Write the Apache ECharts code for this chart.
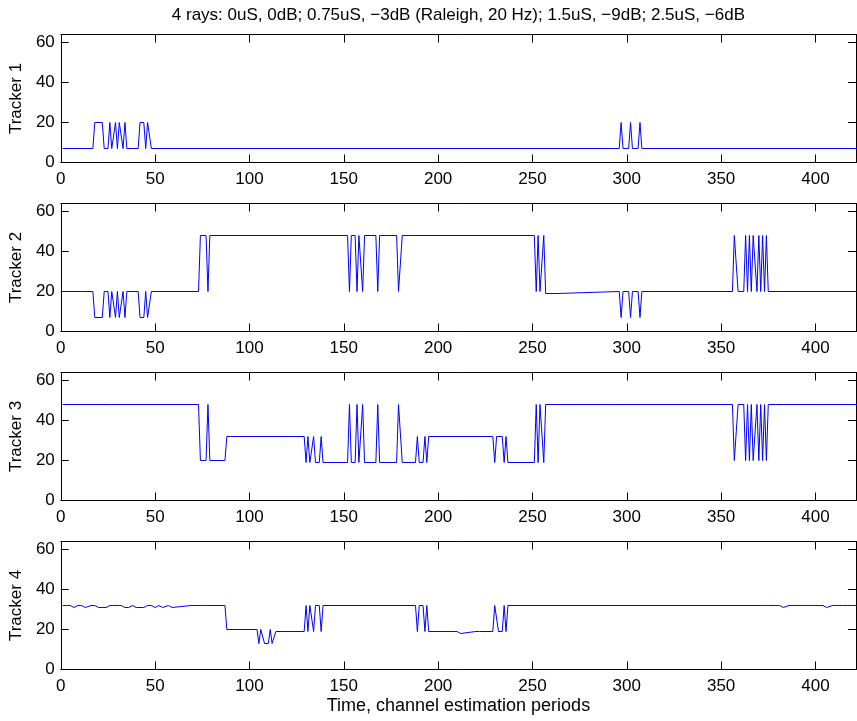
<!DOCTYPE html>
<html>
<head>
<meta charset="utf-8">
<script src="https://cdn.jsdelivr.net/npm/echarts@6/dist/echarts.min.js"></script>
<style>html,body{margin:0;padding:0;background:#fff}#c{width:857px;height:721px}</style>
</head>
<body>
<div id="c"></div>
<script>
// ---- data: vertices of each tracker's step trace as [sample index, value] ----
const titleText = '4 rays: 0uS, 0dB; 0.75uS, \u22123dB (Raleigh, 20 Hz); 1.5uS, \u22129dB; 2.5uS, \u22126dB';
const xLabel = 'Time, channel estimation periods';
const yLabels = ['Tracker 1', 'Tracker 2', 'Tracker 3', 'Tracker 4'];
const xTicks = [0, 50, 100, 150, 200, 250, 300, 350, 400];
const yTicks = [0, 20, 40, 60];

const tracker1 = [[1,7],[17,7],[18,20],[22,20],[23,7],[25,7],[26,20],[27,7],[28,7],[29,20],[30,7],[31,20],[32,20],[33,7],[34,20],[35,7],
  [41,7],[42,20],[44,20],[45,7],[46,20],[47,20],[48,7],
  [296,7],[297,20],[298,7],[301,7],[302,20],[303,7],[306,7],[307,20],[308,7],[422,7]];

const tracker2 = [[1,20],[17,20],[18,7],[22,7],[23,20],[25,20],[26,7],[27,20],[28,20],[29,7],[30,20],[31,7],[32,7],[33,20],[34,7],[35,20],
  [41,20],[42,7],[44,7],[45,20],[46,7],[47,7],[48,20],
  [73,20],[74,48],[77,48],[78,20],[79,48],
  [152,48],[153,20],[154,48],[156,48],[157,20],[158,48],[159,48],[160,20],[161,48],[167,48],[168,20],[169,48],[178,48],[179,20],[180,20],[181,48],
  [251,48],[252,20],[253,48],[254,20],[255,20],[256,48],[257,19],[263,19],[264,20],
  [296,20],[297,7],[298,20],[301,20],[302,7],[303,20],[306,20],[307,7],[308,20],
  [356,20],[357,48],[358,48],[359,20],[362,20],[363,48],[364,20],[365,48],[366,20],[367,48],[368,48],[369,20],[370,48],[371,20],[372,48],[373,20],[374,48],[375,20],[422,20]];

const tracker3 = [[1,48],[25,48],[26,49],[27,48],
  [73,48],[74,20],[77,20],[78,48],[79,20],[87,20],[88,32],[89,31],[90,32],
  [122,32],[123,31],[124,32],
  [129,32],[130,19],[131,32],[132,19],[133,19],[134,32],[135,19],[137,19],[138,32],[139,19],
  [152,19],[153,48],[154,19],[156,19],[157,48],[158,19],[159,19],[160,48],[161,19],[167,19],[168,48],[169,19],[178,19],[179,48],[180,48],[181,19],
  [188,19],[189,32],[190,19],[192,19],[193,32],[194,19],[195,32],
  [229,32],[230,19],[231,32],[234,32],[235,19],[236,32],[237,19],
  [251,19],[252,48],[253,19],[254,48],[255,48],[256,19],[257,48],
  [288,48],[289,49],[290,48],[291,49],[292,48],
  [356,48],[357,20],[358,20],[359,48],[362,48],[363,20],[364,48],[365,20],[366,48],[367,20],[368,20],[369,48],[370,20],[371,48],[372,20],[373,48],[374,20],[375,48],
  [401,48],[402,49],[403,48],[422,48]];

const tracker4 = [[1,32],[2,31.5],[3,32],[4,31],[5,32],[6,31],[7,31],[8,32],[9,32],[10,31],[11,32],[12,31],[13,31],[14,32],[16,32],[17,31],
  [18,32],[19,31],[20,31],[21,32],[22,31],[23,32],[24,31],[25,31],[26,32],[27,31],[28,32],[30,32],[31,31],[32,32],[33,31],[34,31],
  [35,32],[36,31],[37,32],[38,32],[39,31],[40,31],[41,32],[42,31],[43,32],[44,31],[45,31],[46,32],[48,32],[49,31],[50,31],[51,32],
  [52,32],[53,31],[54,31],[55,32],[57,32],[58,31],[59,31],[60,32],[69,32],[70,31],[71,32],[74,32],[75,31],[76,32],[77,31],[78,32],
  [87,32],[88,20],
  [104,20],[105,13],[106,20],[107,20],[108,13],[110,13],[111,20],[112,13],[113,13],[114,19],
  [129,19],[130,32],[131,19],[132,32],[133,32],[134,19],[135,32],[137,32],[138,19],[139,32],
  [188,32],[189,19],[190,32],[192,32],[193,19],[194,32],[195,19],
  [208,19],[209,18],[210,19],[211,19],[212,18],[213,19],[220,19],[221,18],[222,19],
  [229,19],[230,32],[231,32],[232,19],[234,19],[235,32],[236,19],[237,32],
  [369,32],[370,31],[371,32],[373,32],[374,31],[375,32],[376,31],[377,32],[379,32],[380,31],[381,32],[382,32],[383,31],[384,32],
  [386,32],[387,31],[388,32],[389,31],[390,32],[392,32],[393,31],[394,32],[396,32],[397,31],[398,32],[399,31],[400,32],[402,32],
  [403,31],[404,32],[405,31],[406,31],[407,32],[409,32],[410,31],[411,32],[413,32],[414,31],[415,32],[416,31],[417,32],[419,32],
  [420,31],[421,32],[422,32]];

const trackers = [tracker1, tracker2, tracker3, tracker4];
// ---------------------------------------------------------------------------

const chart = echarts.init(document.getElementById('c'), null, {renderer: 'canvas'});
const FONT = '"Liberation Sans", Arial, Helvetica, sans-serif';
const FS = 17;
const gridTops = [34.5, 203.5, 372.5, 541.5];
const grids = [], xAxes = [], yAxes = [], series = [];
const xMax = 421.5;
const axLine = {color: '#000', width: 1};
gridTops.forEach((top, i) => {
  grids.push({left: 58, top: top, width: 798, height: 128, containLabel: false});
  xAxes.push({
    type: 'value', gridIndex: i, min: 0, max: xMax, interval: 50, position: 'bottom',
    axisLine: {show: true, onZero: false, lineStyle: axLine},
    axisTick: {show: true, inside: true, length: 8, lineStyle: axLine},
    splitLine: {show: false},
    axisLabel: {show: true, margin: 8, color: '#000', fontSize: FS, fontFamily: FONT, showMaxLabel: false,
      formatter: v => (xTicks.indexOf(v) >= 0 ? String(v) : '')},
    name: i === 3 ? xLabel : '', nameLocation: 'middle', nameGap: 28,
    nameTextStyle: {color: '#000', fontSize: 18, fontFamily: FONT}
  });
  xAxes.push({
    type: 'value', gridIndex: i, min: 0, max: xMax, interval: 50, position: 'top',
    axisLine: {show: true, onZero: false, lineStyle: axLine},
    axisTick: {show: true, inside: true, length: 8, lineStyle: axLine},
    splitLine: {show: false}, axisLabel: {show: false},
    name: i === 0 ? titleText : '', nameLocation: 'middle', nameGap: 11,
    nameTextStyle: {color: '#000', fontSize: FS, fontFamily: FONT}
  });
  yAxes.push({
    type: 'value', gridIndex: i, min: 0, max: 64, interval: 20, position: 'left',
    axisLine: {show: true, onZero: false, lineStyle: axLine},
    axisTick: {show: true, inside: true, length: 8, lineStyle: axLine},
    splitLine: {show: false},
    axisLabel: {show: true, margin: 6, color: '#000', fontSize: FS, fontFamily: FONT, showMaxLabel: false,
      formatter: v => (yTicks.indexOf(v) >= 0 ? String(v) : '')},
    name: yLabels[i], nameLocation: 'middle', nameGap: 28, nameRotate: 90,
    nameTextStyle: {color: '#000', fontSize: FS, fontFamily: FONT}
  });
  yAxes.push({
    type: 'value', gridIndex: i, min: 0, max: 64, interval: 20, position: 'right',
    axisLine: {show: true, onZero: false, lineStyle: axLine},
    axisTick: {show: true, inside: true, length: 8, lineStyle: axLine},
    splitLine: {show: false}, axisLabel: {show: false}
  });
  series.push({
    type: 'line', xAxisIndex: 2 * i, yAxisIndex: 2 * i,
    data: trackers[i],
    showSymbol: false, symbol: 'none', smooth: false, animation: false,
    lineStyle: {color: '#0000ff', width: 1}, clip: true
  });
});

chart.setOption({
  animation: false,
  backgroundColor: '#fff',
  grid: grids, xAxis: xAxes, yAxis: yAxes, series: series
});
</script>
</body>
</html>
